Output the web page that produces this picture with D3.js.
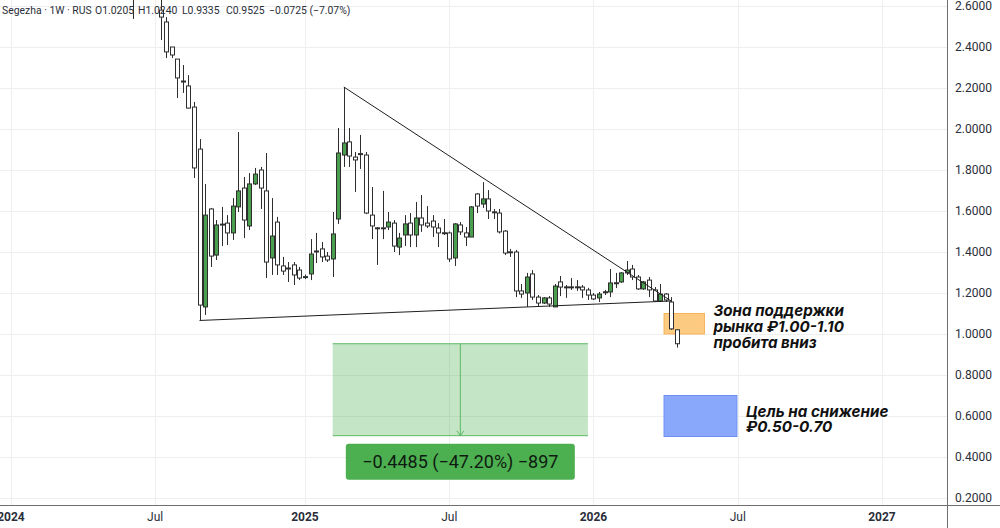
<!DOCTYPE html>
<html>
<head>
<meta charset="utf-8">
<script src="https://cdn.jsdelivr.net/npm/d3@7"></script>
<style>
  body { margin: 0; background: #fff; }
  svg { display: block; font-family: Roboto, "Liberation Sans", sans-serif; }
</style>
</head>
<body>
<svg id="chart" width="1000" height="528"></svg>
<script>
// weekly candles, first one is the week of 2024-06-03; null = above the visible range
const firstWeek = "2024-06-03";
const open  = [2.80, null, null, null, null,
  2.580, 2.522, 2.400, 2.341, 2.234, 2.210, 2.107, 1.902, 1.132, 1.610,
  1.385, 1.536, 1.541, 1.493, 1.620, 1.712, 1.527, 1.732, 1.800, 1.698,
  1.371, 1.546, 1.332, 1.322, 1.337, 1.312, 1.280, 1.293, 1.402, 1.415,
  1.380, 1.366, 1.561, 1.873, 1.937, 1.863, 1.880, 1.873, 1.580, 1.518,
  1.518, 1.522, 1.541, 1.424, 1.483, 1.541, 1.483, 1.566, 1.541, 1.551,
  1.517, 1.494, 1.493, 1.371, 1.532, 1.493, 1.473, 1.683, 1.634, 1.659,
  1.596, 1.590, 1.502, 1.401, 1.400, 1.210, 1.200, 1.293, 1.180, 1.151,
  1.176, 1.132, 1.254, 1.230, 1.230, 1.229, 1.229, 1.215, 1.190, 1.176,
  1.205, 1.205, 1.249, 1.254, 1.298, 1.317, 1.278, 1.220, 1.263, 1.215,
  1.161, 1.195, 1.156, 1.0205];
const high  = [2.86, null, null, null, null,
  2.660, 2.546, 2.400, 2.341, 2.312, 2.263, 2.132, 1.951, 1.732, 1.615,
  1.556, 1.620, 1.580, 1.663, 1.985, 1.766, 1.785, 1.810, 1.815, 1.883,
  1.663, 1.571, 1.376, 1.351, 1.351, 1.327, 1.290, 1.463, 1.493, 1.449,
  1.400, 1.595, 2.005, 2.205, 2.005, 1.888, 1.971, 1.888, 1.717, 1.522,
  1.698, 1.595, 1.556, 1.493, 1.580, 1.590, 1.644, 1.678, 1.624, 1.580,
  1.541, 1.561, 1.500, 1.541, 1.546, 1.522, 1.624, 1.688, 1.741, 1.702,
  1.610, 1.610, 1.507, 1.415, 1.410, 1.244, 1.298, 1.312, 1.190, 1.180,
  1.185, 1.244, 1.283, 1.239, 1.273, 1.263, 1.239, 1.225, 1.200, 1.205,
  1.215, 1.317, 1.298, 1.302, 1.356, 1.337, 1.288, 1.259, 1.278, 1.229,
  1.244, 1.200, 1.180, 1.024];
const low   = [2.537, null, null, null, null,
  2.434, 2.346, 2.346, 2.151, 2.176, 2.100, 1.761, 1.066, 1.093, 1.327,
  1.361, 1.429, 1.434, 1.459, 1.595, 1.468, 1.507, 1.727, 1.610, 1.273,
  1.288, 1.288, 1.288, 1.254, 1.239, 1.263, 1.268, 1.263, 1.346, 1.351,
  1.351, 1.278, 1.537, 1.815, 1.815, 1.693, 1.805, 1.585, 1.463, 1.337,
  1.463, 1.507, 1.400, 1.385, 1.429, 1.424, 1.424, 1.498, 1.517, 1.473,
  1.424, 1.483, 1.351, 1.332, 1.483, 1.429, 1.473, 1.590, 1.615, 1.561,
  1.561, 1.490, 1.385, 1.376, 1.180, 1.176, 1.132, 1.166, 1.132, 1.146,
  1.132, 1.132, 1.185, 1.176, 1.215, 1.210, 1.176, 1.166, 1.166, 1.156,
  1.190, 1.180, 1.224, 1.249, 1.288, 1.263, 1.215, 1.215, 1.180, 1.156,
  1.156, 1.156, 1.020, 0.9335];
const close = [2.70, null, null, null, null,
  2.546, 2.376, 2.361, 2.249, 2.229, 2.102, 1.810, 1.141, 1.580, 1.380,
  1.532, 1.532, 1.493, 1.624, 1.698, 1.556, 1.732, 1.780, 1.712, 1.351,
  1.478, 1.337, 1.307, 1.320, 1.288, 1.273, 1.277, 1.390, 1.405, 1.376,
  1.361, 1.488, 1.883, 1.932, 1.868, 1.849, 1.876, 1.590, 1.527, 1.516,
  1.517, 1.546, 1.429, 1.468, 1.537, 1.483, 1.566, 1.532, 1.527, 1.522,
  1.493, 1.492, 1.366, 1.537, 1.498, 1.473, 1.620, 1.624, 1.659, 1.600,
  1.594, 1.498, 1.395, 1.399, 1.210, 1.195, 1.278, 1.180, 1.151, 1.176,
  1.146, 1.234, 1.229, 1.228, 1.228, 1.230, 1.215, 1.190, 1.171, 1.195,
  1.206, 1.249, 1.250, 1.298, 1.312, 1.278, 1.220, 1.254, 1.215, 1.161,
  1.195, 1.166, 1.025, 0.9525];

const yTicks = [0.2, 0.4, 0.6, 0.8, 1.0, 1.2, 1.4, 1.6, 1.8, 2.0, 2.2, 2.4, 2.6];
const xTickDates  = ["2024-01-01", "2024-07-01", "2025-01-06", "2025-07-07", "2026-01-05", "2026-07-06", "2027-01-04"];
const xTickLabels = ["2024", "Jul", "2025", "Jul", "2026", "Jul", "2027"];

// drawings: [date, price]
const trendUpper = [["2025-02-24", 2.205], ["2026-04-13", 1.161]];
const trendLower = [["2024-08-26", 1.066], ["2026-04-13", 1.161]];
const measureDates = ["2025-02-10", "2025-12-29"];
const measurePrices = [0.9525, 0.504];
const measureLabel = "\u22120.4485 (\u221247.20%) \u2212897";
const supportDates = ["2026-04-04", "2026-05-25"];
const supportPrices = [1.00, 1.10];
const supportText = ["Зона поддержки", "рынка ₽1.00-1.10", "пробита вниз"];
const targetDates = ["2026-04-04", "2026-07-05"];
const targetPrices = [0.50, 0.70];
const targetText = ["Цель на снижение", "₽0.50-0.70"];

const header = [["Segezha · 1W · RUS", 2], ["O1.0205", 95], ["H1.0240", 138],
  ["L0.9335", 182], ["C0.9525", 226], ["\u22120.0725 (\u22127.07%)", 269]];

const W = 1000, H = 528, plotR = 947, plotB = 505;
const parse = d3.utcParse("%Y-%m-%d");
const svg = d3.select("#chart");

const x = d3.scaleUtc()
  .domain([parse("2024-01-01"), parse("2027-01-04")])
  .range([10.9, 882]);
const y = d3.scaleLinear().domain([0.2, 2.6]).range([498, 6]);

const t0 = parse(firstWeek);
const candles = open.map((o, i) => ({
  date: d3.utcDay.offset(t0, i * 7), o, h: high[i], l: low[i], c: close[i]
})).filter(d => d.o != null);

svg.append("defs").append("clipPath").attr("id", "plot")
  .append("rect").attr("width", plotR).attr("height", plotB);

// grid
const grid = svg.append("g");
grid.selectAll("line.h").data(yTicks).join("line")
  .attr("x1", 0).attr("x2", plotR)
  .attr("y1", d => Math.round(y(d)) + 0.5).attr("y2", d => Math.round(y(d)) + 0.5)
  .attr("stroke", "#eeeeee");
grid.selectAll("line.v").data(xTickDates).join("line")
  .attr("x1", d => Math.round(x(parse(d))) + 0.5).attr("x2", d => Math.round(x(parse(d))) + 0.5)
  .attr("y1", 0).attr("y2", plotB)
  .attr("stroke", "#eeeeee");

const plot = svg.append("g").attr("clip-path", "url(#plot)");

// measure box
const mx0 = x(parse(measureDates[0])), mx1 = x(parse(measureDates[1]));
const my0 = y(measurePrices[0]), my1 = y(measurePrices[1]);
plot.append("rect").attr("x", mx0).attr("y", my0)
  .attr("width", mx1 - mx0).attr("height", my1 - my0)
  .attr("fill", "rgba(76,175,80,0.32)");
plot.selectAll("line.mb").data([my0, my1]).join("line")
  .attr("x1", mx0).attr("x2", mx1).attr("y1", d => d).attr("y2", d => d)
  .attr("stroke", "#5cb860").attr("stroke-width", 1);
const mxc = (mx0 + mx1) / 2;
plot.append("line").attr("x1", mxc).attr("x2", mxc).attr("y1", my0).attr("y2", my1)
  .attr("stroke", "#5cb860");
plot.append("path")
  .attr("d", `M${mxc - 3.5},${my1 - 5}L${mxc},${my1}L${mxc + 3.5},${my1 - 5}`)
  .attr("fill", "none").attr("stroke", "#5cb860");

// zones
function zone(dates, prices, fill, stroke) {
  const x0 = x(parse(dates[0])), x1 = x(parse(dates[1]));
  const y0 = y(prices[1]), y1 = y(prices[0]);
  plot.append("rect").attr("x", x0).attr("y", y0)
    .attr("width", x1 - x0).attr("height", y1 - y0)
    .attr("fill", fill).attr("stroke", stroke).attr("stroke-width", 1);
  return { x0, x1, y0, y1 };
}
const sup = zone(supportDates, supportPrices, "#fdca82", "#f6b35a");
const tgt = zone(targetDates, targetPrices, "#8aa8fb", "#6d8ff5");

// candles
const cg = plot.append("g");
cg.selectAll("line").data(candles).join("line")
  .attr("x1", d => Math.round(x(d.date)) + 0.5).attr("x2", d => Math.round(x(d.date)) + 0.5)
  .attr("y1", d => y(d.h)).attr("y2", d => y(d.l))
  .attr("stroke", "#2e2e2e").attr("stroke-width", 1);
cg.selectAll("rect").data(candles).join("rect")
  .attr("x", d => Math.round(x(d.date)) - 1.5)
  .attr("width", 4)
  .attr("y", d => y(Math.max(d.o, d.c)))
  .attr("height", d => Math.max(1, Math.abs(y(d.o) - y(d.c))))
  .attr("fill", d => d.c >= d.o ? "#4a9f4e" : "#ffffff")
  .attr("stroke", "#2e2e2e").attr("stroke-width", 1);

// trend lines
const lineGen = d3.line().x(d => x(parse(d[0]))).y(d => y(d[1]));
[trendUpper, trendLower].forEach(t => {
  plot.append("path").attr("d", lineGen(t))
    .attr("fill", "none").attr("stroke", "#1f1f1f").attr("stroke-width", 1);
});

// measure label
const lw = 229, lh = 36;
svg.append("rect").attr("x", mxc - lw / 2).attr("y", my1 + 8)
  .attr("width", lw).attr("height", lh).attr("rx", 3)
  .attr("fill", "#4caf50");
svg.append("text").attr("x", mxc).attr("y", my1 + 8 + lh / 2 + 6.5)
  .attr("text-anchor", "middle").attr("font-size", 18)
  .attr("fill", "#0f1a10").text(measureLabel);

// annotation texts
const ann = svg.append("g").attr("font-family", "Inter, 'Noto Sans', sans-serif")
  .attr("font-weight", 700).attr("font-style", "italic").attr("font-size", 15.2)
  .attr("fill", "#111");
const supC = (sup.y0 + sup.y1) / 2;
ann.selectAll("text.s").data(supportText).join("text")
  .attr("x", sup.x1 + 9).attr("y", (d, i) => supC - 8 + i * 16).text(d => d);
const tgtC = (tgt.y0 + tgt.y1) / 2;
ann.selectAll("text.t").data(targetText).join("text")
  .attr("x", tgt.x1 + 9).attr("y", (d, i) => tgtC + 0.5 + i * 15.5).text(d => d);

// axes frame
svg.append("line").attr("x1", plotR + 0.5).attr("x2", plotR + 0.5).attr("y1", 0).attr("y2", H)
  .attr("stroke", "#6f6f6f");
svg.append("line").attr("x1", 0).attr("x2", W).attr("y1", plotB + 0.5).attr("y2", plotB + 0.5)
  .attr("stroke", "#6f6f6f");

// y labels
svg.append("g").selectAll("text").data(yTicks).join("text")
  .attr("x", 955).attr("y", d => y(d) + 4)
  .attr("font-size", 12).attr("fill", "#2a2e39")
  .text(d => d3.format(".4f")(d));

// x labels
svg.append("g").selectAll("text").data(xTickDates).join("text")
  .attr("x", d => x(parse(d))).attr("y", 521)
  .attr("text-anchor", "middle").attr("font-size", 12)
  .attr("font-weight", (d, i) => xTickLabels[i] === "Jul" ? 400 : 700)
  .attr("fill", "#2a2e39")
  .text((d, i) => xTickLabels[i]);

// header
svg.append("g").selectAll("text").data(header).join("text")
  .attr("x", d => d[1]).attr("y", 14)
  .attr("font-size", 10.4).attr("fill", "#2a2e39")
  .text(d => d[0]);
</script>
</body>
</html>
